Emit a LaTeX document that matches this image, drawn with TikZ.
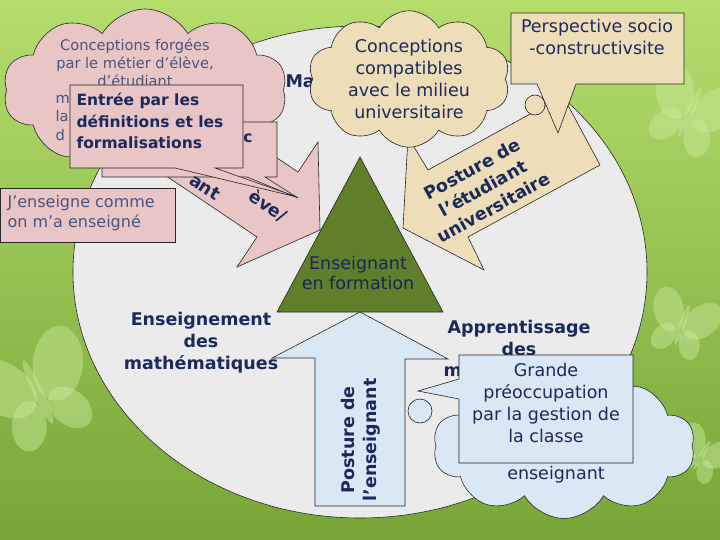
\documentclass[tikz,border=0pt]{standalone}
\usepackage{fontspec}
\setmainfont{DejaVu Sans}
\usetikzlibrary{shapes.symbols}

\definecolor{navy}{HTML}{1B2A5C}
\definecolor{rose}{HTML}{E9C5C6}
\definecolor{sable}{HTML}{EDDDB8}
\definecolor{ciel}{HTML}{DAE8F6}
\definecolor{gris}{HTML}{EBEBEB}
\definecolor{olive}{HTML}{5F7F2B}
\definecolor{aile}{HTML}{CDEBA0}
\definecolor{herbehaut}{HTML}{B4DD6C}
\definecolor{herbebas}{HTML}{77A637}

\tikzset{
  contour/.style={draw=black!85, line width=0.6pt},
  nuage/.style={contour, shape=cloud, cloud puffs=10, cloud puff arc=120, cloud ignores aspect, inner sep=0pt},
  txt/.style={text=navy, align=center, font=\fontsize{17.5}{21.7}\selectfont},
  gras/.style={text=navy, align=center, font=\bfseries\fontsize{17.5}{22}\selectfont},
  petit/.style={text=navy!80, align=center, font=\fontsize{14.6}{18.2}\selectfont},
}

% papillon : x, y, echelle, angle
\newcommand{\papillon}[4]{%
  \begin{scope}[shift={(#1,#2)}, rotate=#4, scale=#3, fill=aile, fill opacity=0.45]
    \fill (0pt,0pt) ellipse (2pt and 14pt);
    \fill[rotate around={30:(-12pt,7pt)}] (-12pt,7pt) ellipse (10pt and 15pt);
    \fill[rotate around={-30:(12pt,7pt)}] (12pt,7pt) ellipse (10pt and 15pt);
    \fill[rotate around={-25:(-9pt,-11pt)}] (-9pt,-11pt) ellipse (7pt and 10pt);
    \fill[rotate around={25:(9pt,-11pt)}] (9pt,-11pt) ellipse (7pt and 10pt);
  \end{scope}}

\begin{document}
\begin{tikzpicture}[x=1pt, y=-1pt]
  \useasboundingbox (0,0) rectangle (720,540);
  % fond
  \shade[top color=herbehaut, bottom color=herbebas] (0,0) rectangle (720,540);
  \papillon{38}{392}{2.5}{25}
  \papillon{682}{325}{1.5}{-20}
  \papillon{690}{112}{1.9}{-25}
  \papillon{702}{455}{1.2}{-30}

  % grand disque
  \draw[contour, fill=gris] (360,272) ellipse (287pt and 246pt);

  % fleches
  \draw[contour, fill=rose] (115,49) -- (298,172) -- (318,142) -- (320,230) -- (237,267) -- (257,237) -- (74,114) -- cycle;
  \draw[contour, fill=sable] (408,137) -- (428,170) -- (563,96) -- (600,165) -- (468,237) -- (484,270) -- (403,228) -- cycle;
  \node[gras, rotate=29] (etudiant) at (483,188) {Posture de\\l’étudiant\\universitaire};
  \draw[contour, fill=ciel] (360,312) -- (448,359) -- (405,359) -- (405,506) -- (315,506) -- (315,358) -- (272,358) -- cycle;
  \node[gras, rotate=90] (posture) at (361,440) {Posture de\\l’enseignant};

  % textes du disque
  \node[gras] (enseignement) at (201,343) {Enseignement\\des\\mathématiques};
  \node[gras] (apprentissage) at (519,338) {Apprentissage\\des};
  \node[gras, anchor=west] (m) at (440,372) {m};
  \node[gras, anchor=west] (ma) at (282,81) {Ma};

  % triangle
  \draw[contour, fill=olive] (360,157) -- (443,312) -- (277,312) -- cycle;
  \node[txt, text=navy!90!black, font=\fontsize{17.5}{19.5}\selectfont] (formation) at (358,273) {Enseignant\\en formation};

  % nuage rose et bulles
  \node[nuage, fill=rose, minimum width=284pt, minimum height=162pt] (nuagerose) at (145,90) {};
  \node[petit] (forgees) at (135,63) {Conceptions forgées\\par le métier d’élève,\\d’étudiant};
  \node[petit, align=left, anchor=west] (debuts) at (52,118) {m\\la\\d};
  \draw[contour, fill=rose] (102,122) -- (277,122) -- (277,177) -- (265,177) -- (298,198) -- (247,177) -- (102,177) -- cycle;
  \node[gras, font=\bfseries\fontsize{15.5}{21.5}\selectfont] (fin) at (248,138) {c};
  \draw[contour, fill=rose] (70,85) -- (243,85) -- (243,168) -- (215,168) -- (297,197) -- (175,168) -- (70,168) -- cycle;
  \node[gras, align=left, anchor=west, font=\bfseries\fontsize{15.5}{21.5}\selectfont] (entree) at (73,121) {Entrée par les\\définitions et les\\formalisations};
  \node[gras, rotate=-33] (ant) at (205,187) {ant};
  \node[gras, rotate=-33] (eleve) at (268,206) {ève/};
  \draw[contour, fill=rose] (0,188) rectangle (175,242);
  \node[petit, align=left, anchor=west, font=\fontsize{16}{19.5}\selectfont] (comme) at (4,213) {J’enseigne comme\\on m’a enseigné};

  % nuage beige et bulle
  \node[nuage, txt, fill=sable, minimum width=202pt, minimum height=130pt] (compatibles) at (409,79) {Conceptions\\compatibles\\avec le milieu\\universitaire};
  \draw[contour, fill=sable] (535,105) circle (10pt);
  \draw[contour, fill=sable] (511,13) -- (684,13) -- (684,84) -- (576,84) -- (558,133) -- (537,84) -- (511,84) -- cycle;
  \node[txt] (socio) at (597,37) {Perspective socio\\-constructivsite};

  % nuage bleu et bulle
  \node[nuage, fill=ciel, minimum width=262pt, minimum height=145pt] (nuagebleu) at (564,446) {};
  \node[txt] (enseignant) at (556,475) {enseignant};
  \draw[contour, fill=ciel] (420,411) circle (12pt);
  \draw[contour, fill=ciel] (459,355) -- (633,355) -- (633,463) -- (459,463) -- (459,399) -- (418,391) -- (459,379) -- cycle;
  \node[txt] (gestion) at (546,403) {Grande\\préoccupation\\par la gestion de\\la classe};
\end{tikzpicture}
\end{document}
